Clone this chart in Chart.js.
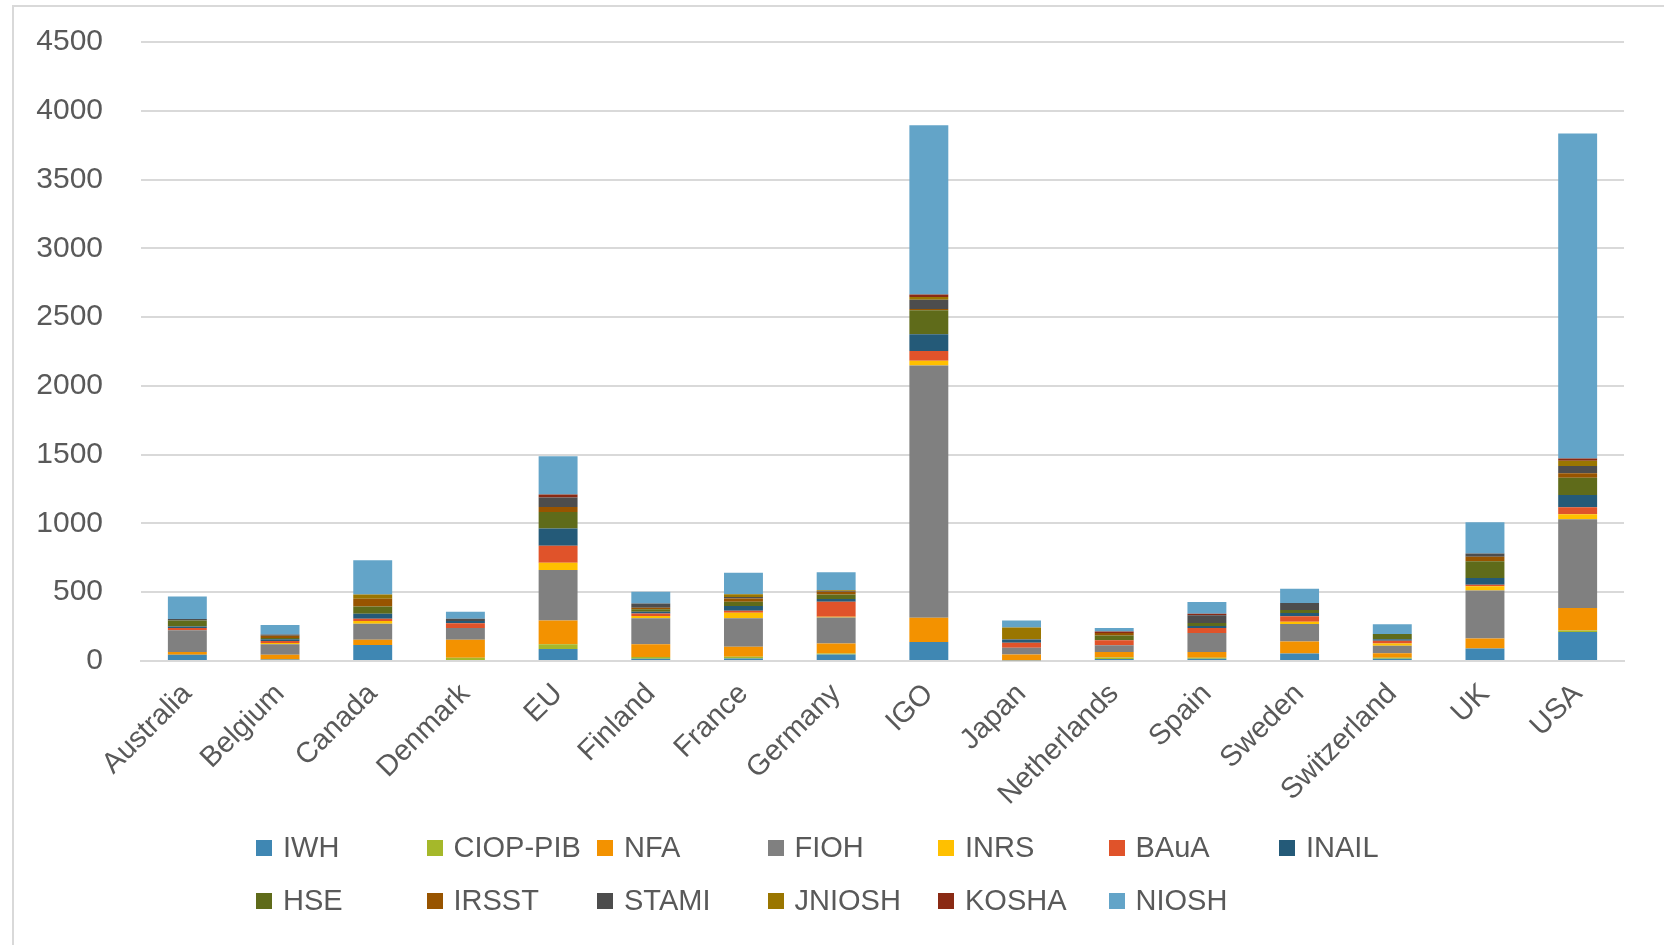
<!DOCTYPE html>
<html>
<head>
<meta charset="utf-8">
<script src="https://cdn.jsdelivr.net/npm/chart.js@4/dist/chart.umd.min.js"></script>
<style>
    html, body { margin: 0; padding: 0; background: #fff; }
    #wrap { position: relative; width: 1664px; height: 945px; overflow: hidden; font-family: "Liberation Sans", Arial, sans-serif; }
    #frame { position: absolute; left: 12px; top: 5px; width: 1700px; height: 1000px; border: 2px solid #d9d9d9; box-sizing: border-box; }
    canvas { position: absolute; left: 0; top: 0; }
    .lg { position: absolute; display: flex; align-items: center; font-size: 29px; color: #595959; white-space: nowrap; }
    .lg span.box { width: 16px; height: 16px; margin-right: 11px; display: inline-block; }
</style>
</head>
<body>
<div id="wrap">
    <div id="frame"></div>
    <canvas id="chart" width="1664" height="945"></canvas>
    <div id="legend"></div>
</div>
<script>
// countries on the x axis
const countries = ["Australia", "Belgium", "Canada", "Denmark", "EU", "Finland", "France", "Germany",
    "IGO", "Japan", "Netherlands", "Spain", "Sweden", "Switzerland", "UK", "USA"];

// one series per institute
const iwh     = [46, 10, 116, 8, 87, 17, 19, 48, 139, 5, 15, 17, 54, 17, 90, 210];
const ciopPib = [0, 0, 0, 15, 34, 12, 12, 7, 0, 0, 10, 7, 0, 7, 0, 12];
const nfa     = [20, 36, 39, 131, 174, 92, 73, 73, 176, 43, 41, 41, 88, 32, 73, 164];
const fioh    = [157, 75, 116, 85, 366, 189, 206, 189, 1834, 48, 48, 138, 127, 54, 349, 645];
const inrs    = [0, 10, 19, 0, 53, 17, 41, 5, 34, 0, 0, 0, 17, 17, 32, 36];
const baua    = [17, 15, 17, 36, 123, 19, 15, 109, 71, 36, 36, 36, 39, 20, 10, 51];
const inail   = [10, 12, 36, 15, 126, 12, 34, 19, 121, 22, 0, 15, 24, 12, 49, 89];
const hse     = [44, 10, 53, 0, 121, 19, 31, 34, 174, 0, 36, 22, 22, 37, 122, 126];
const irsst   = [0, 15, 56, 0, 36, 10, 24, 19, 10, 0, 17, 0, 0, 0, 32, 31];
const stami   = [12, 10, 0, 17, 68, 31, 10, 6, 68, 5, 0, 56, 51, 0, 24, 53];
const jniosh  = [0, 0, 31, 0, 0, 0, 20, 6, 20, 85, 0, 0, 0, 0, 0, 39];
const kosha   = [0, 0, 0, 0, 22, 0, 0, 0, 18, 0, 12, 12, 0, 0, 0, 17];
const niosh   = [162, 68, 249, 51, 278, 85, 157, 130, 1230, 51, 24, 85, 103, 71, 227, 2362];

const yTicks = [0, 500, 1000, 1500, 2000, 2500, 3000, 3500, 4000, 4500];

const seriesNames  = ["IWH", "CIOP-PIB", "NFA", "FIOH", "INRS", "BAuA", "INAIL", "HSE", "IRSST", "STAMI", "JNIOSH", "KOSHA", "NIOSH"];
const seriesValues = [iwh, ciopPib, nfa, fioh, inrs, baua, inail, hse, irsst, stami, jniosh, kosha, niosh];
const seriesColors = ["#3f87b3", "#a5b82a", "#f39200", "#808080", "#ffc000", "#e0532a", "#245a78",
    "#5f6b1a", "#985400", "#4d4d4d", "#9a7600", "#8a2a14", "#63a4c8"];

const datasets = seriesNames.map((name, i) => ({
    label: name,
    data: seriesValues[i],
    backgroundColor: seriesColors[i],
    borderWidth: 0,
    barPercentage: 0.42,
    categoryPercentage: 1.0
}));

new Chart(document.getElementById('chart').getContext('2d'), {
    type: 'bar',
    data: { labels: countries, datasets: datasets },
    options: {
        responsive: false,
        animation: false,
        layout: { padding: { left: 0, right: 40, top: 42, bottom: 0 } },
        plugins: { legend: { display: false }, tooltip: { enabled: false } },
        scales: {
            x: {
                stacked: true,
                grid: { display: false, drawTicks: false },
                border: { color: '#d9d9d9', width: 2 },
                ticks: {
                    color: '#595959',
                    font: { family: '"Liberation Sans", Arial, sans-serif', size: 29 },
                    minRotation: 45, maxRotation: 45, padding: 16, autoSkip: false
                },
                afterFit: (scale) => { scale.height = 945 - 661; }
            },
            y: {
                stacked: true,
                min: 0, max: 4500,
                afterBuildTicks: (scale) => { scale.ticks = yTicks.map(v => ({ value: v })); },
                grid: { color: '#d9d9d9', lineWidth: 2, drawTicks: false },
                border: { display: false },
                ticks: {
                    color: '#595959',
                    font: { family: '"Liberation Sans", Arial, sans-serif', size: 30 },
                    padding: 38,
                    callback: (v) => String(v)
                },
                // fixed width, and no extra overflow padding so the plot top stays at 4500
                afterFit: (scale) => {
                    scale.width = 141;
                    scale.paddingTop = 0;
                    scale.paddingBottom = 0;
                }
            }
        }
    }
});

// legend laid out on a fixed grid like the original
const legend = document.getElementById('legend');
seriesNames.forEach((name, i) => {
    const col = i % 7, row = Math.floor(i / 7);
    const item = document.createElement('div');
    item.className = 'lg';
    item.style.left = (256 + col * 170.5) + 'px';
    item.style.top = (831 + row * 53) + 'px';
    item.innerHTML = `<span class="box" style="background:${seriesColors[i]}"></span>${name}`;
    legend.appendChild(item);
});
</script>
</body>
</html>
